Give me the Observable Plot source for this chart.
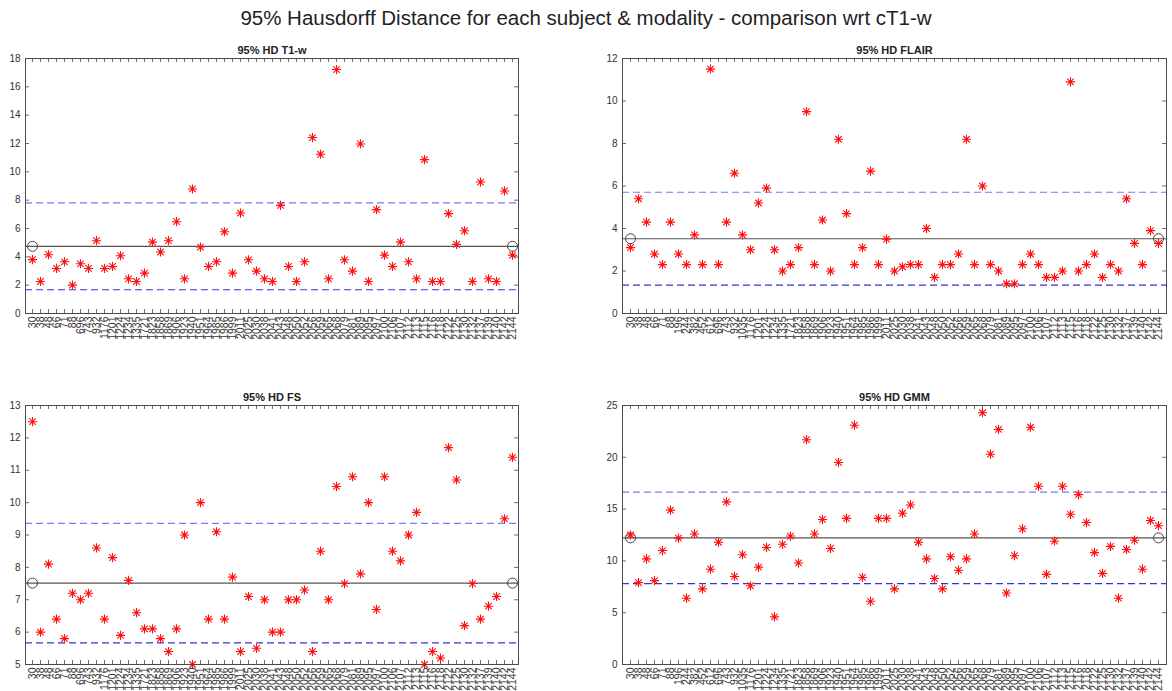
<!DOCTYPE html>
<html>
<head>
<meta charset="utf-8">
<script src="https://cdn.jsdelivr.net/npm/d3@7"></script>
<script src="https://cdn.jsdelivr.net/npm/@observablehq/plot@0.6"></script>
<style>
  body { margin: 0; background: #fff; font-family: "Liberation Sans", Arial, sans-serif; }
  #fig { position: relative; width: 1172px; height: 691px; overflow: hidden; background: #fff; }
  #title { position: absolute; left: 0; top: 6px; width: 1172px; text-align: center; font-size: 20.5px; color: #222; }
  .panel { position: absolute; }
</style>
</head>
<body>
<div id="fig">
  <div id="title">95% Hausdorff Distance for each subject &amp; modality - comparison wrt cT1-w</div>
</div>
<script>
// Subject identifiers for the T1-w and FS panels
const subjectsA = ["30","38","48","66","71","88","696","743","932","1176","1201","1224","1234","1335","1721","1823","1858","1869","1906","1923","1940","1951","1964","1985","1986","1999","2011","2025","2030","2038","2041","2043","2048","2050","2052","2056","2059","2065","2068","2079","2081","2089","2095","2097","2100","2106","2107","2112","2113","2115","2116","2118","2122","2125","2130","2132","2137","2139","2140","2142","2144"];

// Subject identifiers for the FLAIR and GMM panels
const subjectsB = ["30","38","48","66","71","88","196","244","382","452","612","696","743","932","1035","1176","1201","1224","1234","1335","1721","1823","1858","1869","1906","1923","1940","1951","1964","1985","1986","1999","2011","2025","2030","2038","2041","2043","2048","2050","2052","2056","2059","2065","2068","2079","2081","2089","2095","2097","2100","2106","2107","2112","2113","2115","2116","2118","2122","2125","2130","2132","2137","2139","2140","2142","2144"];

// 95% Hausdorff distance per subject, one array per modality
const hdT1w = [3.8,2.26,4.15,3.18,3.65,2.0,3.51,3.18,5.14,3.18,3.32,4.08,2.45,2.26,2.85,5.04,4.34,5.14,6.48,2.45,8.79,4.69,3.32,3.65,5.77,2.85,7.09,3.79,2.99,2.45,2.26,7.63,3.32,2.26,3.65,12.42,11.24,2.45,17.22,3.79,2.99,11.97,2.26,7.33,4.12,3.32,5.04,3.65,2.45,10.86,2.26,2.26,7.05,4.88,5.84,2.26,9.28,2.45,2.26,8.65,4.12];
const hdFS = [12.5,6.0,8.1,6.4,5.8,7.2,7.0,7.2,8.6,6.4,8.3,5.9,7.6,6.6,6.1,6.1,5.8,5.4,6.1,9.0,5.0,10.0,6.4,9.1,6.4,7.7,5.4,7.1,5.5,7.0,6.0,6.0,7.0,7.0,7.3,5.4,8.5,7.0,10.5,7.5,10.8,7.8,10.0,6.7,10.8,8.5,8.2,9.0,9.7,5.0,5.4,5.2,11.7,10.7,6.2,7.5,6.4,6.8,7.1,9.5,11.4];
const hdFLAIR = [3.1,5.4,4.3,2.8,2.3,4.3,2.8,2.3,3.7,2.3,11.5,2.3,4.3,6.6,3.7,3.0,5.2,5.9,3.0,2.0,2.3,3.1,9.5,2.3,4.4,2.0,8.2,4.7,2.3,3.1,6.7,2.3,3.5,2.0,2.2,2.3,2.3,4.0,1.7,2.3,2.3,2.8,8.2,2.3,6.0,2.3,2.0,1.4,1.4,2.3,2.8,2.3,1.7,1.7,2.0,10.9,2.0,2.3,2.8,1.7,2.3,2.0,5.4,3.3,2.3,3.9,3.3];
const hdGMM = [12.5,7.9,10.2,8.1,11.0,14.9,12.2,6.4,12.6,7.3,9.2,11.8,15.7,8.5,10.6,7.6,9.4,11.3,4.6,11.6,12.4,9.8,21.7,12.6,14.0,11.2,19.5,14.1,23.1,8.4,6.1,14.1,14.1,7.3,14.6,15.4,11.8,10.2,8.3,7.3,10.4,9.1,10.2,12.6,24.3,20.3,22.7,6.9,10.5,13.1,22.9,17.2,8.7,11.9,17.2,14.5,16.4,13.7,10.8,8.8,11.4,6.4,11.1,12.0,9.2,13.9,13.4];

// Y-axis ticks per panel
const ticksT1w = [0,2,4,6,8,10,12,14,16,18];
const ticksFLAIR = [0,2,4,6,8,10,12];
const ticksFS = [5,6,7,8,9,10,11,12,13];
const ticksGMM = [0,5,10,15,20,25];

// MATLAB-style '*' marker: eight spokes of equal length
const asterisk8 = {
  draw(ctx, size) {
    const r = Math.sqrt(size / Math.PI);
    for (let k = 0; k < 4; ++k) {
      const a = k * Math.PI / 4;
      const dx = r * Math.cos(a), dy = r * Math.sin(a);
      ctx.moveTo(-dx, -dy);
      ctx.lineTo(dx, dy);
    }
  }
};

function panel({title, subjects, values, ticks, left, top, plotWidth, plotHeight}) {
  const mL = 25, mR = 6, mT = 18, mB = 50;
  const data = subjects.map((s, i) => ({subject: s, value: values[i]}));
  const mean = d3.mean(values);
  const sd = d3.deviation(values);
  const ends = [data[0].subject, data[data.length - 1].subject];
  const axisColor = "#4a4a4a";
  const plot = Plot.plot({
    width: mL + plotWidth + mR,
    height: mT + plotHeight + mB,
    marginLeft: mL, marginRight: mR, marginTop: mT, marginBottom: mB,
    style: {fontFamily: "Liberation Sans, Arial, sans-serif", background: "transparent", color: "#333"},
    x: {type: "point", domain: subjects, padding: 0, axis: null, label: null},
    y: {domain: [ticks[0], ticks[ticks.length - 1]], axis: null, label: null},
    marks: [
      // inward tick marks on all four sides
      Plot.tickX(subjects, {x: d => d, insetTop: plotHeight - 4, stroke: axisColor, strokeOpacity: 0.8}),
      Plot.tickX(subjects, {x: d => d, insetBottom: plotHeight - 4, stroke: axisColor, strokeOpacity: 0.8}),
      Plot.tickY(ticks, {y: d => d, insetRight: plotWidth - 4, stroke: axisColor, strokeOpacity: 0.8}),
      Plot.tickY(ticks, {y: d => d, insetLeft: plotWidth - 4, stroke: axisColor, strokeOpacity: 0.8}),
      // mean and mean ± standard deviation
      Plot.ruleY([mean + sd], {stroke: "#7878f8", strokeWidth: 1.2, strokeDasharray: "7,4"}),
      Plot.ruleY([mean - sd], {stroke: "#3434d8", strokeWidth: 1.2, strokeDasharray: "7,4"}),
      Plot.ruleY([mean], {stroke: "#555", strokeWidth: 1.2}),
      Plot.dot(ends, {x: d => d, y: () => mean, r: 5, stroke: "#444", fill: "none", strokeWidth: 1}),
      // per-subject values
      Plot.dot(data, {x: "subject", y: "value", symbol: asterisk8, r: 4.6, stroke: "#ff1010", strokeWidth: 1.1, fill: "none"}),
      Plot.frame({stroke: axisColor, strokeWidth: 1}),
      Plot.axisY(ticks, {tickSize: 0, tickPadding: 5, fontSize: 10, label: null, tickFormat: d => String(d)}),
      Plot.axisX(subjects, {tickSize: 0, tickPadding: 3, tickRotate: -90, fontSize: 10.5, label: null}),
      Plot.text([title], {frameAnchor: "top", lineAnchor: "bottom", dy: -5, fontWeight: "bold", fontSize: 11, fill: "#222"})
    ]
  });
  plot.classList.add("panel");
  plot.style.left = (left - mL) + "px";
  plot.style.top = (top - mT) + "px";
  document.getElementById("fig").appendChild(plot);
}

panel({title: "95% HD T1-w", subjects: subjectsA, values: hdT1w, ticks: ticksT1w, left: 25, top: 58, plotWidth: 493, plotHeight: 255});
panel({title: "95% HD FLAIR", subjects: subjectsB, values: hdFLAIR, ticks: ticksFLAIR, left: 622, top: 58, plotWidth: 544, plotHeight: 255});
panel({title: "95% HD FS", subjects: subjectsA, values: hdFS, ticks: ticksFS, left: 25, top: 405, plotWidth: 493, plotHeight: 259});
panel({title: "95% HD GMM", subjects: subjectsB, values: hdGMM, ticks: ticksGMM, left: 622, top: 405, plotWidth: 544, plotHeight: 259});
</script>
</body>
</html>
